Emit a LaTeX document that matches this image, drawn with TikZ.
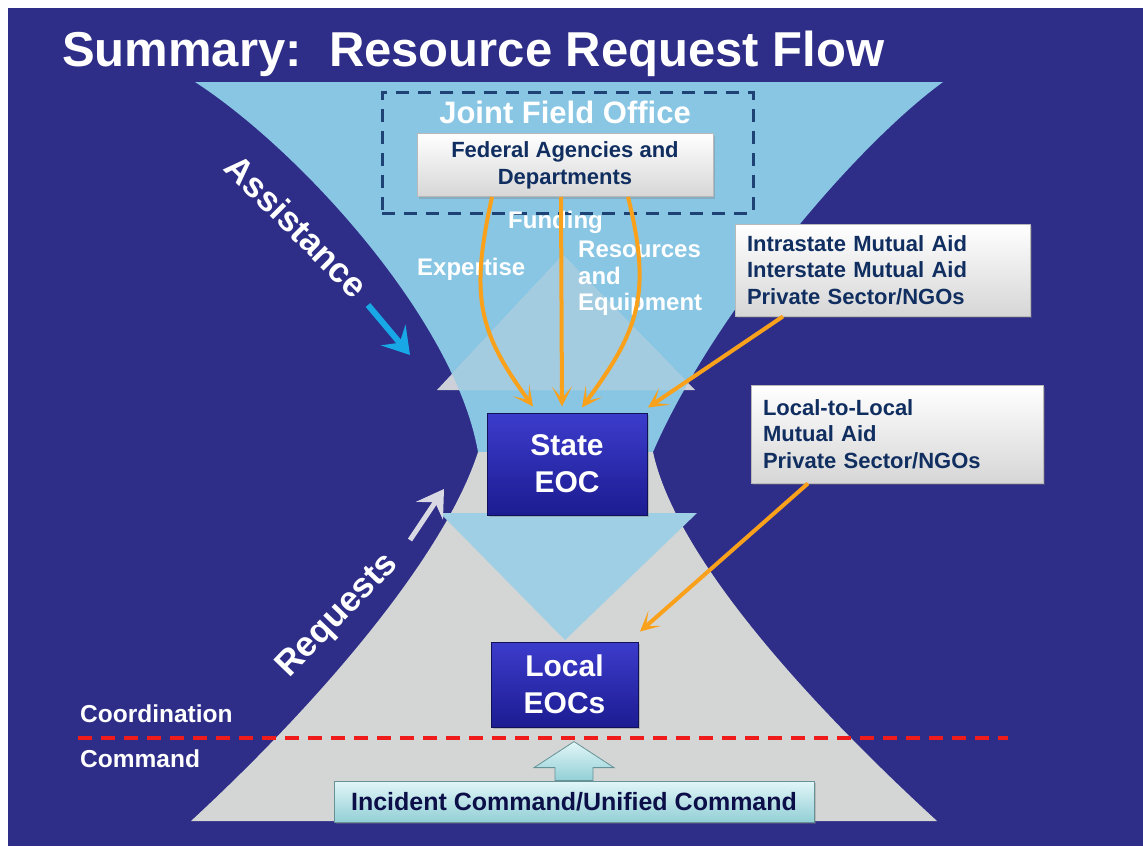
\documentclass[tikz,border=0pt]{standalone}
\usepackage{fontspec}
\setmainfont{Liberation Sans}
\usepackage{tikz}
\usetikzlibrary{arrows.meta,shapes,positioning,calc,shadows}
\definecolor{NavyBg} {RGB}{46,  45, 136}
\definecolor{SkyF}   {RGB}{136,198, 228}
\definecolor{GreyF}  {RGB}{212,214, 214}
\definecolor{PaleB}  {RGB}{164,204, 224}
\definecolor{PaleG}  {RGB}{205,208, 216}
\definecolor{DownB}  {RGB}{158,207, 228}
\definecolor{OrangeA}{RGB}{249,161,  27}
\definecolor{InkN}   {RGB}{16,  46,  96}
\definecolor{InkD}   {RGB}{12,  14,  72}
\definecolor{BoxTop} {RGB}{60,  60, 204}
\definecolor{BoxBot} {RGB}{28,  28, 146}
\definecolor{DashN}  {RGB}{31,  66, 117}
\definecolor{RedL}   {RGB}{240, 28,  28}
\definecolor{CyanA}  {RGB}{24, 168, 230}
\definecolor{GreyA}  {RGB}{217,217, 227}
\definecolor{IcTop}  {RGB}{226,246, 248}
\definecolor{IcBot}  {RGB}{146,207, 214}
\newcommand{\skyfunnel}{(195,82) -- (943,82) .. controls (850,150) and (710,320) .. (653,452)
  -- (478,452) .. controls (455,320) and (300,150) .. (195,82) -- cycle}
\newcommand{\greybell}{(478,452) .. controls (445,555) and (322,700) .. (191,821)
  -- (937,821) .. controls (805,700) and (675,555) .. (653,452) -- cycle}
\newcommand{\paletri}{(437,390) -- (695,390) -- (563,255) -- cycle}
\tikzset{
  slidetitle/.style={text=white,inner sep=0pt,anchor=base west,
    font=\fontsize{49}{56}\selectfont\bfseries},
  onblue/.style={text=white,inner sep=0pt,font=\fontsize{24}{26.5}\selectfont\bfseries},
  whitebox/.style={draw=gray!55,line width=0.8pt,top color=white,bottom color=gray!32,
    drop shadow={opacity=0.35,shadow xshift=2pt,shadow yshift=-2pt},text=InkN},
  fedbox/.style={whitebox,minimum width=296pt,minimum height=63pt,inner sep=0pt,
    align=center,font=\fontsize{22}{27}\selectfont\bfseries},
  aidbox/.style={whitebox,inner xsep=12pt,inner ysep=0pt,align=left,
    font=\fontsize{22}{26.5}\selectfont\bfseries},
  eocbox/.style={draw=BoxBot!60!black,line width=1pt,top color=BoxTop,bottom color=BoxBot,
    drop shadow={opacity=0.4,shadow xshift=2pt,shadow yshift=-2pt},
    text=white,inner sep=0pt,align=center,font=\fontsize{30}{37}\selectfont\bfseries},
  icbox/.style={draw=IcBot!70!black,line width=0.8pt,top color=IcTop,bottom color=IcBot,
    drop shadow={opacity=0.35,shadow xshift=2pt,shadow yshift=-2pt},
    minimum width=480pt,minimum height=41pt,inner sep=0pt,text=InkD,
    font=\fontsize{25}{28}\selectfont\bfseries},
  jfobox/.style={draw=DashN,line width=3pt,dash pattern=on 13pt off 9pt,
    minimum width=371pt,minimum height=121pt},
  flowarrow/.style={OrangeA,line width=4pt,
    -{Stealth[length=20pt,width=20pt,inset=12pt]}},
  cuearrow/.style={line width=6pt,-{Stealth[length=26pt,width=32pt,inset=10pt]}}
}
\begin{document}
\begin{tikzpicture}[x=1pt,y=-1pt]
  \useasboundingbox (0,0) rectangle (1143,846);
  \fill[white] (0,0) rectangle (1143,846);
  \fill[NavyBg] (8,8) rectangle (1143,846);
  \fill[SkyF] \skyfunnel;
  \fill[GreyF] \greybell;
  \fill[PaleG] \paletri;
  \begin{scope}
    \clip \skyfunnel;
    \fill[PaleB] \paletri;
  \end{scope}
  \fill[DownB] (440,513) -- (697,513) -- (565,640) -- cycle;

  \node[slidetitle] (ttl) at (62,66) {Summary:\ \ Resource Request Flow};

  \node[jfobox] (jfo) at (567.5,152.5) {};
  \node[onblue,anchor=base,font=\fontsize{31}{34}\selectfont\bfseries] (jfolbl) at (565,123) {Joint Field Office};
  \node[fedbox] (fed) at (565,165) {Federal Agencies and\\Departments};

  \node[onblue,anchor=base west] (fund) at (508,228) {Funding};
  \node[onblue,anchor=base west] (expert) at (417,275) {Expertise};
  \node[onblue,anchor=north west,align=left] (resq) at (578,241) {Resources\\and\\Equipment};

  \node[aidbox,text width=271pt,minimum height=92pt] (intra) at (882.5,270)
    {Intrastate Mutual Aid\\Interstate Mutual Aid\\Private Sector/NGOs};
  \node[aidbox,text width=268pt,minimum height=98pt] (ltol) at (897,434)
    {Local-to-Local\\Mutual Aid\\Private Sector/NGOs};

  \node[eocbox,minimum width=160pt,minimum height=102pt] (state) at (567,464) {State\\EOC};
  \node[eocbox,minimum width=147pt,minimum height=85pt] (local) at (564.5,684.5) {Local\\EOCs};
  \node[icbox] (inc) at (574,801.5) {Incident Command/Unified Command};

  \node[onblue,rotate=-45,font=\fontsize{35}{38}\selectfont\bfseries] (assist) at (297,226) {Assistance};
  \node[onblue,rotate=46,font=\fontsize{35}{38}\selectfont\bfseries] (req) at (338,616) {Requests};
  \coordinate (asA) at (368,305);
  \coordinate (asB) at (410,355);
  \coordinate (rqA) at (410,540);
  \coordinate (rqB) at (444,489);
  \draw[cuearrow,CyanA] (asA) -- (asB);
  \draw[cuearrow,GreyA,line width=5pt] (rqA) -- (rqB);

  \node[onblue,anchor=base west,font=\fontsize{24.5}{27}\selectfont\bfseries] (coord) at (80,722) {Coordination};
  \node[onblue,anchor=base west,font=\fontsize{24.5}{27}\selectfont\bfseries] (cmd) at (80,767) {Command};
  \draw[RedL,line width=4pt,dash pattern=on 14pt off 9pt] (78,738) -- (1008,738);

  \draw[flowarrow] ([xshift=-73pt]fed.south)
    .. controls +(-22pt,-100pt) and +(-55pt,75pt) .. ([xshift=-34pt,yshift=6pt]state.north);
  \draw[flowarrow] ([xshift=-4pt]fed.south) -- ([xshift=-5pt,yshift=6pt]state.north);
  \draw[flowarrow] ([xshift=63pt]fed.south)
    .. controls +(25pt,-100pt) and +(55pt,75pt) .. ([xshift=15pt,yshift=5pt]state.north);
  \draw[flowarrow] ([xshift=-99.5pt]intra.south) -- ([xshift=81pt,yshift=5pt]state.north);
  \draw[flowarrow] ([xshift=-89pt]ltol.south) -- ([xshift=75.5pt,yshift=10pt]local.north);

  \draw[draw=IcBot!70!black,line width=0.8pt,top color=IcTop,bottom color=IcBot]
    ([xshift=-19pt]inc.north) -- ++(0pt,13pt) -- ++(-21pt,0pt) -- ++(40pt,26pt)
    -- ++(40pt,-26pt) -- ++(-21pt,0pt) -- ++(0pt,-13pt) -- cycle;
\end{tikzpicture}
\end{document}
